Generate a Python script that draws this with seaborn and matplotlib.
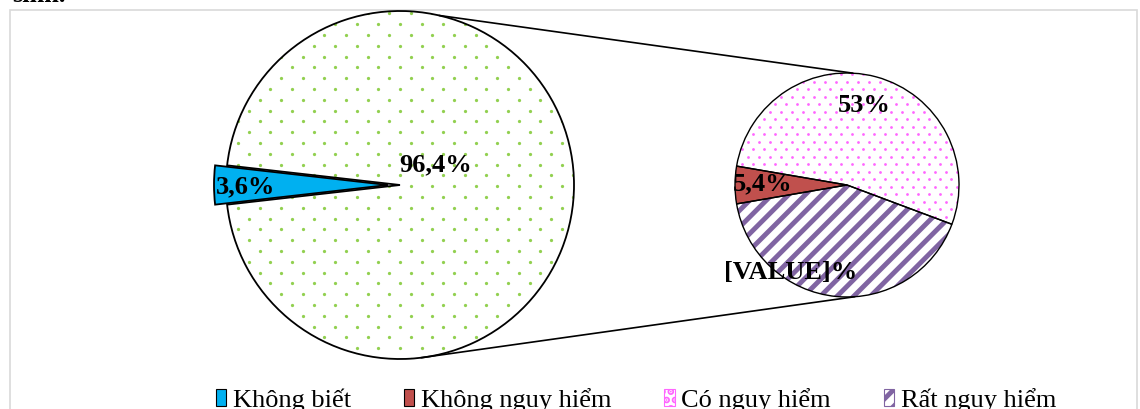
import matplotlib
matplotlib.use("Agg")
from matplotlib import pyplot as plt
from matplotlib.patches import Patch, Rectangle
import numpy as np
import seaborn as sns

# main pie
main_labels = ["Không biết", "Biết"]
main_values = [3.6, 96.4]
main_texts = ["3,6%", "96,4%"]

# breakdown pie (of the 96.4% slice)
sub_labels = ["Có nguy hiểm", "Không nguy hiểm", "Rất nguy hiểm"]
sub_values = [53.0, 5.4, 41.6]
sub_texts = ["53%", "5,4%", "[VALUE]%"]

legend_labels = ["Không biết", "Không nguy hiểm", "Có nguy hiểm", "Rất nguy hiểm"]

sns.set_theme(style="white")
plt.rcParams["font.family"] = ["Liberation Serif", "DejaVu Serif"]
plt.rcParams["text.color"] = "black"
plt.rcParams["hatch.linewidth"] = 3.5

blue = "#00B0F0"
red = "#C0504D"
green = "#92D050"
pink = "#FF66FF"
purple = "#8064A2"


def dot_texture(ax, wedge, color, dx, dy, size):
    # staggered dot pattern clipped to a wedge (like excel's dotted fill)
    x0, y0, x1, y1 = ax.transData.inverted().transform(wedge.get_window_extent()).flatten()
    pts = []
    for i, y in enumerate(np.arange(y0 - dy, y1 + dy, dy)):
        off = (dx / 2) * (i % 2)
        for x in np.arange(x0 - dx + off, x1 + dx, dx):
            pts.append((x, y))
    pts = np.array(pts)
    sc = ax.scatter(pts[:, 0], pts[:, 1], s=size, color=color, linewidths=0, zorder=1.5)
    sc.set_clip_path(wedge)


figure = plt.figure(figsize=(11.4, 4.09), dpi=100)
ax = figure.add_axes([0, 0, 1, 1])
ax.set_xlim(0, 1140)
ax.set_ylim(0, 409)
ax.set_aspect("equal")

c1, r1 = (400, 224), 174
c2, r2 = (847, 224), 112

# left pie
start1 = 180 - main_values[0] * 3.6 / 2
w1, _ = ax.pie(main_values, center=c1, radius=r1, startangle=start1,
               explode=[12, 0], colors=[blue, "white"],
               wedgeprops=dict(linewidth=0))
ax.set_xlim(0, 1140)
ax.set_ylim(0, 409)
figure.canvas.draw()
dot_texture(ax, w1[1], green, 21.6, 10.8, 5.5)
ax.pie(main_values, center=c1, radius=r1, startangle=start1,
       explode=[12, 0], colors=["none", "none"],
       wedgeprops=dict(linewidth=1.3, edgecolor="black", zorder=2))

# right pie
start2 = 180 - sub_values[1] * 3.6 / 2 - sub_values[0] * 3.6
w2, _ = ax.pie(sub_values, center=c2, radius=r2, startangle=start2,
               colors=["white", red, "white"], wedgeprops=dict(linewidth=0))
w2[2].set_hatch("//")
w2[2].set_edgecolor(purple)
ax.set_xlim(0, 1140)
ax.set_ylim(0, 409)
figure.canvas.draw()
dot_texture(ax, w2[0], pink, 11, 7.5, 4)
ax.pie(sub_values, center=c2, radius=r2, startangle=start2,
       colors=["none"] * 3, wedgeprops=dict(linewidth=1.0, edgecolor="black", zorder=2))

# connector lines
for a1, a2 in [(77, 87), (-83, -86)]:
    p1 = (c1[0] + r1 * np.cos(np.radians(a1)), c1[1] + r1 * np.sin(np.radians(a1)))
    p2 = (c2[0] + r2 * np.cos(np.radians(a2)), c2[1] + r2 * np.sin(np.radians(a2)))
    ax.plot([p1[0], p2[0]], [p1[1], p2[1]], color="black", linewidth=1.2)

# data labels
lab_kw = dict(fontsize=19, fontweight="bold", ha="center", va="center", color="black", zorder=5)
ax.text(246, 222, main_texts[0], **lab_kw)
ax.text(436, 244, main_texts[1], **lab_kw)
ax.text(864, 303, sub_texts[0], **lab_kw)
ax.text(763, 225, sub_texts[1], **lab_kw)
ax.text(791, 136, sub_texts[2], **lab_kw)

# chart border and cut-off caption
ax.add_patch(Rectangle((10, -20), 1127, 419, fill=False, edgecolor="#D9D9D9", linewidth=1.2))
ax.text(12, 407.3, "sinh.", fontsize=19, fontweight="bold", va="baseline", color="black")

handles = [
    Patch(facecolor=blue, edgecolor="black", linewidth=0.8),
    Patch(facecolor=red, edgecolor="black", linewidth=0.8),
    Patch(facecolor="white", edgecolor=pink, hatch="..", linewidth=0.8),
    Patch(facecolor="white", edgecolor=purple, hatch="//", linewidth=0.8),
]
leg = ax.legend(handles, legend_labels, loc="center", bbox_to_anchor=(0.558, 0.022),
                ncol=4, frameon=False, prop=dict(family="Liberation Serif", size=19),
                handlelength=0.4, handleheight=0.6, handletextpad=0.25,
                columnspacing=2.0, borderpad=0)
for t in leg.get_texts():
    t.set_color("black")

ax.set_xlim(0, 1140)
ax.set_ylim(0, 409)
ax.axis("off")

figure.savefig("out.png", dpi=100)
